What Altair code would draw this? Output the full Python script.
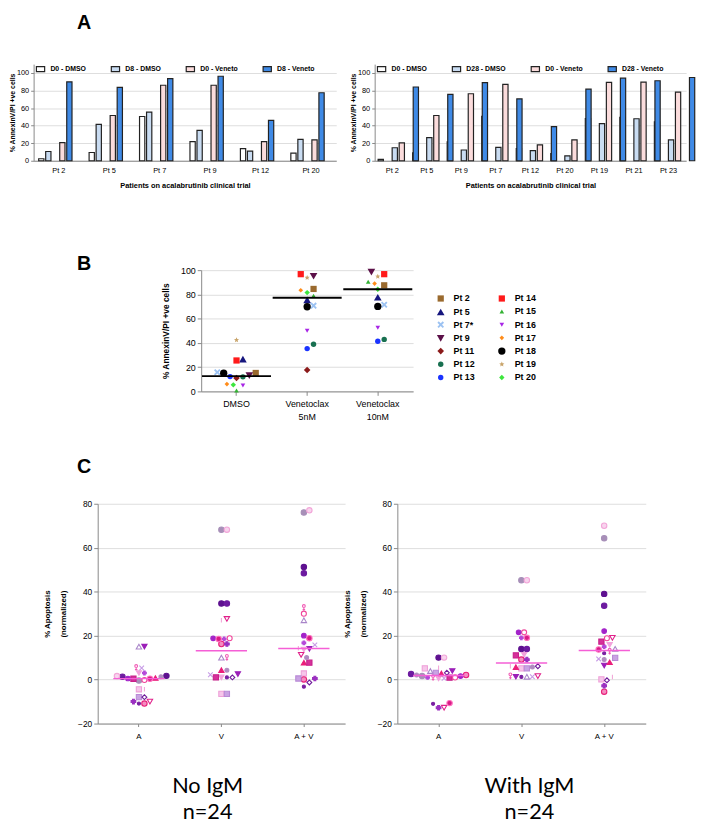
import math
import altair as alt
import pandas as pd

FONT = "Liberation Sans"

# ---------------- Panel A data ----------------
A1_PATIENTS = ["Pt 2", "Pt 5", "Pt 7", "Pt 9", "Pt 12", "Pt 20"]
A1_SERIES = ["D0 - DMSO", "D8 - DMSO", "D0 - Veneto", "D8 - Veneto"]
A1_D0_DMSO = [2.3, 9.4, 50.4, 21.8, 13.9, 8.6]
A1_D8_DMSO = [10.5, 41.4, 55.3, 34.6, 10.9, 24.4]
A1_D0_VEN = [20.7, 51.5, 86.0, 86.0, 21.8, 23.7]
A1_D8_VEN = [89.8, 83.5, 93.6, 96.2, 45.9, 77.4]

A2_PATIENTS = ["Pt 2", "Pt 5", "Pt 9", "Pt 7", "Pt 12", "Pt 20", "Pt 19", "Pt 21", "Pt 23"]
A2_SERIES = ["D0 - DMSO", "D28 - DMSO", "D0 - Veneto", "D28 - Veneto"]
A2_D0_DMSO = [1.5, 8.9, 21.5, 50.7, 13.7, 8.1, 48.1, 49.3, 44.4]
A2_D28_DMSO = [14.8, 26.3, 12.2, 15.2, 11.5, 5.6, 42.2, 47.8, 23.7]
A2_D0_VEN = [20.4, 51.5, 76.3, 87.0, 18.1, 23.7, 89.3, 89.6, 78.1]
A2_D28_VEN = [84.0, 75.6, 88.9, 70.4, 38.9, 81.5, 94.0, 91.1, 94.8]

BAR_FILLS = ["#ffffff", "#c9dcf2", "#fbdcdc", "#3f8ae6"]

# ---------------- Panel B data ----------------
B_PATIENTS = ["Pt 2", "Pt 5", "Pt 7*", "Pt 9", "Pt 11", "Pt 12", "Pt 13",
              "Pt 14", "Pt 15", "Pt 16", "Pt 17", "Pt 18", "Pt 19", "Pt 20"]
B_CONDITIONS = ["DMSO", "Venetoclax 5nM", "Venetoclax 10nM"]
B_DMSO = [15.2, 26.6, 15.8, 13.0, 11.1, 12.0, 12.2, 25.5, 0.8, 4.9, 6.0, 15.0, 42.4, 5.4]
B_VEN5 = [84.5, 75.5, 70.7, 95.0, 17.7, 38.9, 35.3, 96.7, 78.8, 50.0, 83.4, 69.8, 93.8, 81.5]
B_VEN10 = [87.5, 77.7, 71.5, 98.4, None, 42.9, 41.3, 96.7, 90.5, 52.4, 88.9, 70.1, 94.8, 84.2]


def star_path(n=5, r_out=1.0, r_in=0.45):
    pts = []
    for k in range(2 * n):
        r = r_out if k % 2 == 0 else r_in
        a = math.pi * k / n - math.pi / 2
        pts.append(f"{r * math.cos(a):.3f},{r * math.sin(a):.3f}")
    return "M" + "L".join(pts) + "Z"


THICK_X = "M-1,-0.6L-0.6,-1L0,-0.4L0.6,-1L1,-0.6L0.4,0L1,0.6L0.6,1L0,0.4L-0.6,1L-1,0.6L-0.4,0Z"
B_COLORS = ["#9a6a2e", "#16167e", "#9cc2f2", "#5b1048", "#8b1a1a", "#187050", "#1a33ff",
            "#ff1a1a", "#33b233", "#a826e6", "#ff8c1a", "#000000", "#c9a46a", "#3de63d"]
B_SHAPES = ["square", "triangle-up", THICK_X, "triangle-down", "diamond", "circle", "circle",
            "square", "triangle-up", "triangle-down", "diamond", "circle", star_path(), "diamond"]
B_SIZES = [40, 60, 45, 60, 45, 30, 30, 40, 22, 22, 22, 55, 30, 30]

# ---------------- Panel C data ----------------
C_PATIENTS = [f"P{i}" for i in range(1, 25)]
C_TREATMENTS = ["A", "V", "A + V"]
NOIGM_A = [1.7, 1.3, -0.4, 1.6, 15, 15, 5.4, 3, 3, 5.3, -4.4, -10.9, 0.7, 0.4, -0.2, 1.3,
           -10.9, 0.5, -8, -4.4, -8, -10, -10, 0.4]
NOIGM_V = [34.6, 34.6, 68.2, 68.2, 10, 2.5, 10, 1, 18.5, 2.2, -6.5, 1, 4.3, 1, 18.8, 4.3,
           16.2, 18.8, -6.5, 27, 1, 16.2, 27.6, 18.5]
NOIGM_AV = [51.2, 48.4, 76, 77, 27, 14, 32.7, 13.7, 16.7, 15.8, 2.8, -3.2, 7.7, 7.7, 30, 10,
            0.1, 20, 0.5, 14.3, -1.3, 0.5, 11.3, 18.8]
IGM_A = [10, 2.5, 1.6, 10, 3.9, 3.9, 0.9, 0.5, 1, 0.6, 5.1, -11, 2.8, 0.9, 1, 2.1,
         2.1, 1.6, 3.1, 5.4, 3.1, -12.8, -12.8, -10.7]
IGM_V = [13.9, 13.9, 45.2, 45.2, 1.3, 1.3, 1.6, 11.3, 19, 1.3, 5.1, 1.2, 5.7, 11, 21.5, 5.7,
         9.1, 21.5, 5.1, 6.1, 6.1, 9.1, 1.6, 19]
IGM_AV = [39, 33.6, 64.3, 70, 14, 6.4, 12.8, 15.8, 15, 9.4, 0.1, 12, 7.9, 17.3, 18.8, 9.1,
          -5.5, 22.1, 9.9, 1.2, -0.3, -2.8, 19, 13.7]

SH_X = "M-1,-1L1,1M-1,1L1,-1"
SH_BAR = "M0,-1L0,1"
SH_FEMALE = "M0,-1A0.45,0.45 0 1,1 0,-0.1A0.45,0.45 0 1,1 0,-1M0,-0.1L0,1M-0.4,0.55L0.4,0.55"
C_SHAPES = ["circle", "circle", "circle", "circle", "triangle-up", "triangle-down", SH_FEMALE,
            "triangle-down", "cross", SH_X, "square", "circle", "triangle-up", "square", "circle",
            "circle", "circle", "circle", "square", SH_BAR, "diamond", "cross", "triangle-down", "circle"]
C_STROKES = ["#5e1190", "#6d1ba0", "#a78fb8", "#f2a6d8", "#a985c9", "#9b1fb8", "#f15bb5",
             "#f2a2dc", "#b447d9", "#c79be6", "#eea0d8", "#7a1fa2", "#ea1e7a", "#c81e8a", "#f0459a",
             "#b08ac0", "#e8207a", "#a323c9", "#b98ad6", "#f2a6d8", "#6f1a9a", "#9b30c0", "#e0208a", "#ff6fbf"]
C_FILLS = ["#5e1190", "#6d1ba0", "#a78fb8", "#f8d4ee", "#ffffff", "#9b1fb8", "#ffffff",
           "#f2a2dc", "#b447d9", "#ffffff", "#f6c6ea", "#7a1fa2", "#ea1e7a", "#d6309a", "#ffffff",
           "#b08ac0", "#f48cc0", "#a323c9", "#c9a3e3", "#ffffff", "#ffffff", "#9b30c0", "#ffffff", "#d81b85"]
C_SIZES = [30, 30, 30, 30, 30, 28, 40, 28, 14, 22, 28, 10, 28, 28, 26, 16, 30, 22, 28, 20, 24, 22, 30, 30]

# ---------------- layout constants ----------------
A1_W, A2_W, A_H = 307, 316, 98
B_W, B_H = 215, 123
C_W1, C_W2, C_H = 251, 252, 223
NOVIEW = alt.ViewBackground(stroke=None, fill=None)


def beeswarm(values, px_per_unit, diam):
    idx = [i for i, v in enumerate(values) if v is not None]
    order = sorted(idx, key=lambda i: values[i])
    cands = [0.0]
    for j in range(1, 60):
        cands += [j * diam / 2, -j * diam / 2]
    placed, offs = [], {}
    for i in order:
        y = values[i] * px_per_unit
        for c in cands:
            if all((c - px) ** 2 + (y - py) ** 2 >= diam ** 2 * 0.999 for px, py in placed):
                offs[i] = c
                placed.append((c, y))
                break
    return offs


def bar_panel(patients, series, columns, width, pad_inner, title=None):
    rows = [{"patient": p, "series": s, "value": v}
            for s, vals in zip(series, columns) for p, v in zip(patients, vals)]
    ch = alt.Chart(pd.DataFrame(rows)).mark_bar(stroke="#222222", strokeWidth=1.2).encode(
        x=alt.X("patient:N", sort=patients,
                scale=alt.Scale(paddingInner=pad_inner, paddingOuter=0.1),
                axis=alt.Axis(title="Patients on acalabrutinib clinical trial", labelAngle=0,
                              ticks=False, labelFontSize=7.5, titleFontSize=7.5,
                              labelPadding=6, titlePadding=8)),
        xOffset=alt.XOffset("series:N", sort=series, scale=alt.Scale(paddingInner=0.25)),
        y=alt.Y("value:Q", scale=alt.Scale(domain=[0, 110], nice=False),
                axis=alt.Axis(values=[0, 20, 40, 60, 80, 100], title="% AnnexinV/PI +ve cells",
                              labelFontSize=7.5, titleFontSize=7, tickSize=3, titlePadding=1,
                              labelPadding=2)),
        fill=alt.Fill("series:N", sort=series, scale=alt.Scale(domain=series, range=BAR_FILLS),
                      legend=alt.Legend(title=None, orient="none", direction="horizontal",
                                        legendX=2, legendY=0, symbolType="M-1,-0.6H1V0.6H-1Z",
                                        symbolSize=70, symbolStrokeColor="#222222",
                                        symbolStrokeWidth=1.2, labelFontSize=7,
                                        labelFontWeight="bold", labelFont=FONT,
                                        columnPadding=22, labelOffset=5)),
    ).properties(width=width, height=A_H, view=NOVIEW)
    if title is not None:
        ch = ch.properties(title=title)
    return ch


def panel_b():
    ppu = B_H / 100.0
    bw = B_W / 3.0
    rows = []
    for cond, vals in zip(B_CONDITIONS, [B_DMSO, B_VEN5, B_VEN10]):
        offs = beeswarm(vals, ppu, 6.5)
        for i, (p, v) in enumerate(zip(B_PATIENTS, vals)):
            if v is None:
                continue
            rows.append({"patient": p, "cond": cond, "value": v, "off": offs[i]})
    df = pd.DataFrame(rows)
    leg = alt.Legend(title=None, orient="none", legendX=238, legendY=24, columns=2,
                     labelFontSize=9, labelFontWeight="bold", labelFont=FONT,
                     rowPadding=3.4, columnPadding=22, labelOffset=8)
    xenc = alt.X("cond:N", sort=B_CONDITIONS, scale=alt.Scale(paddingInner=0, paddingOuter=0),
                 axis=alt.Axis(title=None, labelAngle=0, labelExpr="split(datum.label, ' ')",
                               labelFontSize=9, labelLineHeight=14, tickSize=4, labelPadding=4))
    yax = alt.Axis(values=[0, 20, 40, 60, 80, 100], title="% AnnexinV/PI +ve cells",
                   labelFontSize=9, titleFontSize=8.5, tickSize=4, titlePadding=10)
    ysc = alt.Scale(domain=[0, 100], nice=False)
    pts = alt.Chart(df).mark_point(filled=True, opacity=1).encode(
        x=xenc,
        xOffset=alt.XOffset("off:Q", scale=alt.Scale(domain=[-bw / 2, bw / 2], nice=False, zero=False)),
        y=alt.Y("value:Q", scale=ysc, axis=yax),
        color=alt.Color("patient:N", scale=alt.Scale(domain=B_PATIENTS, range=B_COLORS), legend=leg),
        shape=alt.Shape("patient:N", scale=alt.Scale(domain=B_PATIENTS, range=B_SHAPES), legend=leg),
        size=alt.Size("patient:N", scale=alt.Scale(type="ordinal", domain=B_PATIENTS, range=B_SIZES), legend=leg),
    )
    med = alt.Chart(df).mark_tick(color="black", thickness=2, size=70).encode(
        x=xenc,
        y=alt.Y("median(value):Q", scale=ysc, axis=yax),
    )
    return alt.layer(pts, med).properties(width=B_W, height=B_H, view=NOVIEW)


def panel_c(columns, width, bottom, dx):
    ppu = C_H / 100.0
    bw = width / 3.0
    rows = []
    for t, vals in zip(C_TREATMENTS, columns):
        offs = beeswarm(vals, ppu, 5.6)
        for i, (p, v) in enumerate(zip(C_PATIENTS, vals)):
            rows.append({"pid": p, "treat": t, "value": v, "off": offs[i]})
    df = pd.DataFrame(rows)
    xenc = alt.X("treat:N", sort=C_TREATMENTS, scale=alt.Scale(paddingInner=0, paddingOuter=0),
                 axis=alt.Axis(title=None, labelAngle=0, labelFontSize=8, tickSize=3, labelPadding=6))
    yax = alt.Axis(values=[-20, 0, 20, 40, 60, 80], title=["% Apoptosis", "(normalized)"],
                   labelFontSize=8.5, titleFontSize=8, titleLineHeight=16, tickSize=4,
                   titlePadding=10)
    ysc = alt.Scale(domain=[-20, 80], nice=False)
    pts = alt.Chart(df).mark_point(opacity=1, strokeWidth=1.1).encode(
        x=xenc,
        xOffset=alt.XOffset("off:Q", scale=alt.Scale(domain=[-bw / 2, bw / 2], nice=False, zero=False)),
        y=alt.Y("value:Q", scale=ysc, axis=yax),
        shape=alt.Shape("pid:N", scale=alt.Scale(domain=C_PATIENTS, range=C_SHAPES), legend=None),
        stroke=alt.Stroke("pid:N", scale=alt.Scale(domain=C_PATIENTS, range=C_STROKES), legend=None),
        fill=alt.Fill("pid:N", scale=alt.Scale(domain=C_PATIENTS, range=C_FILLS), legend=None),
        size=alt.Size("pid:N", scale=alt.Scale(type="ordinal", domain=C_PATIENTS, range=C_SIZES), legend=None),
    )
    med = alt.Chart(df).mark_tick(color="#f55fd6", thickness=1.5, size=52).encode(
        x=xenc,
        y=alt.Y("median(value):Q", scale=ysc, axis=yax),
    )
    return alt.layer(pts, med).properties(
        width=width, height=C_H, view=NOVIEW,
        title=alt.TitleParams(bottom, orient="bottom", fontSize=22, font="Lato",
                              fontWeight="normal", lineHeight=27, offset=36, dx=dx,
                              anchor="middle", frame="group"))


def spacer(w, h, title=None):
    ch = alt.Chart(pd.DataFrame({"z": [0]})).mark_point(opacity=0).encode(
        x=alt.X("z:Q", axis=None), y=alt.Y("z:Q", axis=None)
    ).properties(width=w, height=h, view=NOVIEW)
    if title is not None:
        ch = ch.properties(title=title)
    return ch


def letter(txt, offset, dy=0):
    return alt.TitleParams(txt, anchor="start", frame="group", dx=44, offset=offset, dy=dy,
                           fontSize=20, font=FONT, fontWeight="bold", orient="top")


IND = dict(color="independent", fill="independent", stroke="independent",
           shape="independent", size="independent")

row1 = alt.hconcat(
    bar_panel(A1_PATIENTS, A1_SERIES, [A1_D0_DMSO, A1_D8_DMSO, A1_D0_VEN, A1_D8_VEN], A1_W, 0.2,
              title=letter("A", 32)),
    bar_panel(A2_PATIENTS, A2_SERIES, [A2_D0_DMSO, A2_D28_DMSO, A2_D0_VEN, A2_D28_VEN], A2_W, 0.18),
    spacing=39, bounds="flush",
).resolve_scale(**IND).resolve_legend(**IND)

row2 = alt.hconcat(
    spacer(150, B_H, title=letter("B", 0, dy=4)),
    panel_b(),
    spacing=20, bounds="flush",
).resolve_scale(**IND).resolve_legend(**IND)

row3 = alt.hconcat(
    spacer(12, C_H, title=letter("C", 27)),
    panel_c([NOIGM_A, NOIGM_V, NOIGM_AV], C_W1, ["No IgM", "n=24"], -14),
    panel_c([IGM_A, IGM_V, IGM_AV], C_W2, ["With IgM", "n=24"], 8),
    spacing=53, bounds="flush",
).resolve_scale(**IND).resolve_legend(**IND)

chart = alt.vconcat(row1, spacer(1, 208.7), row2, spacer(1, 236.6), row3,
                    spacing=0, bounds="flush").resolve_scale(**IND).resolve_legend(**IND)
chart = chart.properties(padding={"left": 0, "top": -1, "right": 0, "bottom": 0}).configure_view(
    stroke=None).configure_axis(
    domainColor="black", tickColor="black", labelColor="black", titleColor="black",
    grid=False, labelFont=FONT, titleFont=FONT, labelFontWeight="bold", titleFontWeight="bold",
    domainWidth=1.2, tickWidth=1.2,
).configure(background="white")

chart.save("out.html", embed_options={"renderer": "svg", "actions": False})
